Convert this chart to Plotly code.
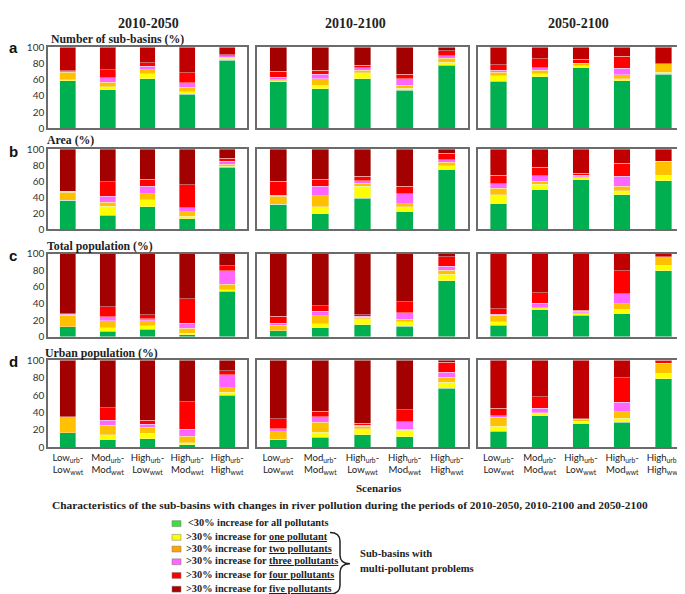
import plotly.graph_objects as go

W, H = 685, 594

periods = ["2010-2050", "2010-2100", "2050-2100"]
panel_titles = ["Number of sub-basins (%)", "Area (%)", "Total population (%)", "Urban population (%)"]
panel_letters = ["a", "b", "c", "d"]
scenarios = [
    "Low<sub>urb</sub>-<br>Low<sub>wwt</sub>",
    "Mod<sub>urb</sub>-<br>Mod<sub>wwt</sub>",
    "High<sub>urb</sub>-<br>Low<sub>wwt</sub>",
    "High<sub>urb</sub>-<br>Mod<sub>wwt</sub>",
    "High<sub>urb</sub>-<br>High<sub>wwt</sub>",
]
categories = [
    "<30% increase for all pollutants",
    ">30% increase for <u>one pollutant</u>",
    ">30% increase for <u>two pollutants</u>",
    ">30% increase for <u>three pollutants</u>",
    ">30% increase for <u>four pollutants</u>",
    ">30% increase for <u>five pollutants</u>",
]
y_ticks = [0, 20, 40, 60, 80, 100]

# Each list: one row per scenario, values per category (green, yellow, orange, pink, red, dark red)
num_2010_2050 = [[59, 1, 9, 2, 0, 29], [47.5, 4, 5.5, 5.5, 10, 27.5], [61.5, 6, 5, 4, 4.5, 19],
                 [42, 3.5, 5, 6, 12, 31.5], [84, 2.5, 1.5, 1.5, 1.5, 9]]
num_2010_2100 = [[57.5, 1.5, 1, 3, 7.5, 29.5], [49, 4.5, 7.5, 6, 5, 28], [61, 7.5, 3, 3, 3.5, 22],
                 [47, 2.5, 4, 8, 5.5, 33], [78, 3.5, 5, 3, 6, 4.5]]
num_2050_2100 = [[58, 7, 4.5, 2, 7, 21.5], [64, 3.5, 4, 3.5, 11, 14], [75, 2.5, 2, 1, 5, 14.5],
                 [58.5, 2.5, 5, 8, 15, 11], [67, 2.5, 10.5, 0, 0, 20]]

area_2010_2050 = [[36, 0, 10, 1.5, 0, 52.5], [17.5, 11, 5, 7.5, 18, 41], [28, 8.5, 7.5, 9.5, 8.5, 38],
                  [13, 3, 5.5, 5.5, 28.5, 44.5], [77, 1.5, 2.5, 4, 3.5, 11.5]]
area_2010_2100 = [[31, 0, 10, 1.5, 17, 40.5], [19, 9, 14, 11.5, 8.5, 38], [38.5, 15, 3.5, 3.5, 5.5, 34],
                  [21.5, 6.5, 4, 12, 9.5, 46.5], [74, 5, 4.5, 3, 8, 5.5]]
area_2050_2100 = [[31.5, 11.5, 8, 5.5, 10.5, 33], [49.5, 6.5, 4, 6.5, 10.5, 23], [61.5, 2.5, 1.5, 2, 2.5, 30],
                  [43, 5, 5.5, 12.5, 16, 18], [60.5, 7, 17, 0, 0, 15.5]]

totpop_2010_2050 = [[12, 0, 14, 1, 0.5, 72.5], [6.5, 4.5, 8, 5, 12, 64], [9, 4.5, 5.5, 3, 4.5, 73.5],
                    [2.5, 2, 5.5, 6.5, 29, 54.5], [54.5, 2, 7, 16, 6, 14.5]]
totpop_2010_2100 = [[7, 0, 7, 2.5, 8.5, 75], [11, 4.5, 10, 5.5, 6.5, 62.5], [14.5, 7, 2, 1, 2, 73.5],
                    [12.5, 5.5, 3, 8, 13, 58], [67.5, 7.5, 5, 5, 11.5, 3.5]]
totpop_2050_2100 = [[14, 4, 8, 1, 7, 66], [32.5, 2.5, 0, 5.5, 12.5, 47], [26, 2, 1, 1.5, 1.5, 68],
                    [28, 5, 7, 12, 27.5, 20.5], [79.5, 6.5, 10.5, 0, 0, 3.5]]

urbpop_2010_2050 = [[17, 0, 18, 0, 0, 65], [8.5, 6, 11, 5.5, 14.5, 54.5], [10, 6, 7, 3.5, 4.5, 69],
                    [3, 2.5, 7, 8.5, 31.5, 47.5], [60, 3, 5.5, 15, 4.5, 12]]
urbpop_2010_2100 = [[9.5, 0, 8.5, 3.5, 11.5, 67], [11.5, 6, 11.5, 6, 6.5, 58.5], [14.5, 7, 2.5, 1.5, 2, 72.5],
                    [12, 7.5, 1, 9, 13.5, 57], [68, 7, 5.5, 5.5, 11.5, 2.5]]
urbpop_2050_2100 = [[18.5, 5.5, 10.5, 2, 8.5, 55], [36.5, 3.5, 0, 5, 13, 42], [27, 3, 2, 1, 0, 67],
                    [29, 4.5, 7.5, 11, 28, 20], [78.5, 6.5, 11.5, 0, 3, 0.5]]

grid = [
    [num_2010_2050, num_2010_2100, num_2050_2100],
    [area_2010_2050, area_2010_2100, area_2050_2100],
    [totpop_2010_2050, totpop_2010_2100, totpop_2050_2100],
    [urbpop_2010_2050, urbpop_2010_2100, urbpop_2050_2100],
]

# ---------- styling ----------
base_colors = ["#00B050", "#FFFF00", "#FFC000", "#FF66FF", "#FF0000"]
dark_bright = "#C00000"
dark_deep = "#A30000"
legend_colors = ["#3CE03C", "#FFFF00", "#FFA500", "#FF66FF", "#FF0000", "#A80000"]

serif = "Liberation Serif"
sans = "Lato"

col_px = [(40, 239), (249, 460), (470, 676)]
row_px = [(33, 116), (137, 219), (244, 329), (353, 442)]


def px(x):
    return x / W


def py(y):
    return 1 - y / H


fig = go.Figure()
layout = dict(
    width=W, height=H, margin=dict(l=0, r=0, t=0, b=0),
    paper_bgcolor="white", plot_bgcolor="white",
    barmode="stack", showlegend=False, bargap=0.6,
)

for r in range(4):
    for c in range(3):
        k = r * 3 + c + 1
        xa = "x" if k == 1 else f"x{k}"
        ya = "y" if k == 1 else f"y{k}"
        data = grid[r][c]
        dark = dark_bright if (c == 2 or (r == 0 and c == 0)) else dark_deep
        colors = base_colors + [dark]
        for j in range(6):
            fig.add_trace(go.Bar(
                x=list(range(5)), y=[data[b][j] for b in range(5)],
                xaxis=xa, yaxis=ya, width=0.4,
                marker=dict(color=colors[j], line=dict(color="rgba(235,235,235,0.7)", width=0.6)),
                hoverinfo="skip",
            ))
        x0, x1 = col_px[c]
        y0, y1 = row_px[r]
        layout["xaxis" if k == 1 else f"xaxis{k}"] = dict(
            domain=[px(x0), px(x1)], anchor=ya, range=[-0.5, 4.5],
            tickvals=list(range(5)), ticktext=scenarios, showticklabels=(r == 3),
            tickfont=dict(family=sans, size=9.6, color="#222"), tickangle=0,
            ticklabeloverflow="allow",
            showline=True, mirror=True, linecolor="#6b6b6b", linewidth=1.5,
            ticks="", showgrid=False, zeroline=False, fixedrange=True,
        )
        layout["yaxis" if k == 1 else f"yaxis{k}"] = dict(
            domain=[py(y1), py(y0)], anchor=xa, range=[0, 100],
            tickvals=y_ticks, showticklabels=(c == 0),
            tickfont=dict(family=sans, size=10, color="#333"),
            showline=True, mirror=True, linecolor="#6b6b6b", linewidth=1.5,
            ticks="", showgrid=False, zeroline=False, fixedrange=True,
        )

fig.update_layout(**layout)


def note(x, y, text, size, family=serif, xanchor="left", color="#222"):
    return dict(x=px(x), y=py(y), xref="paper", yref="paper", text=text, showarrow=False,
                xanchor=xanchor, yanchor="middle", borderpad=0,
                font=dict(family=family, size=size, color=color))


ann = []
col_centers = [140, 347, 570]
for c, p in enumerate(periods):
    ann.append(note(col_centers[c], 9, f"<b>{p}</b>", 14, xanchor="center"))

title_pos = [(42, 25), (38, 128), (38, 236), (36, 346)]
letter_pos = [33, 140, 246, 354]
for r in range(4):
    ann.append(note(title_pos[r][0], title_pos[r][1], f"<b>{panel_titles[r]}</b>", 11.8))
    ann.append(note(0, letter_pos[r], f"<b>{panel_letters[r]}</b>", 15, family="Liberation Sans", color="#111"))

ann.append(note(371, 484, "<b>Scenarios</b>", 11, xanchor="center"))
ann.append(note(342, 501,
                "<b>Characteristics of the sub-basins with changes in river pollution during the periods of 2010-2050, 2010-2100 and 2050-2100</b>",
                11.4, xanchor="center"))

shapes = []
leg_y = [519, 533, 545, 558, 572, 586]
for i, cat in enumerate(categories):
    yc = leg_y[i]
    shapes.append(dict(type="rect", xref="paper", yref="paper",
                       x0=px(164), x1=px(173), y0=py(yc + 4), y1=py(yc - 2),
                       fillcolor=legend_colors[i], line=dict(color="#777", width=0.5)))
    ann.append(note(179 if i == 0 else 177, yc, f"<b>{cat}</b>", 10.3))

# curly brace
pts = [(322, 529), (332, 529), (332, 538), (332, 552), (332, 561), (342, 561),
       (332, 561), (332, 570), (332, 583), (332, 592), (322, 592)]
P = [f"{px(a):.5f},{py(b):.5f}" for a, b in pts]
path = (f"M {P[0]} Q {P[1]} {P[2]} L {P[3]} Q {P[4]} {P[5]} "
        f"Q {P[6]} {P[7]} L {P[8]} Q {P[9]} {P[10]}")
shapes.append(dict(type="path", xref="paper", yref="paper", path=path,
                   line=dict(color="#222", width=1.5)))

ann.append(note(351, 551, "<b>Sub-basins with</b>", 10.6))
ann.append(note(351, 566, "<b>multi-pollutant problems</b>", 10.6))

fig.update_layout(annotations=ann, shapes=shapes)
fig.write_html("out.html")
